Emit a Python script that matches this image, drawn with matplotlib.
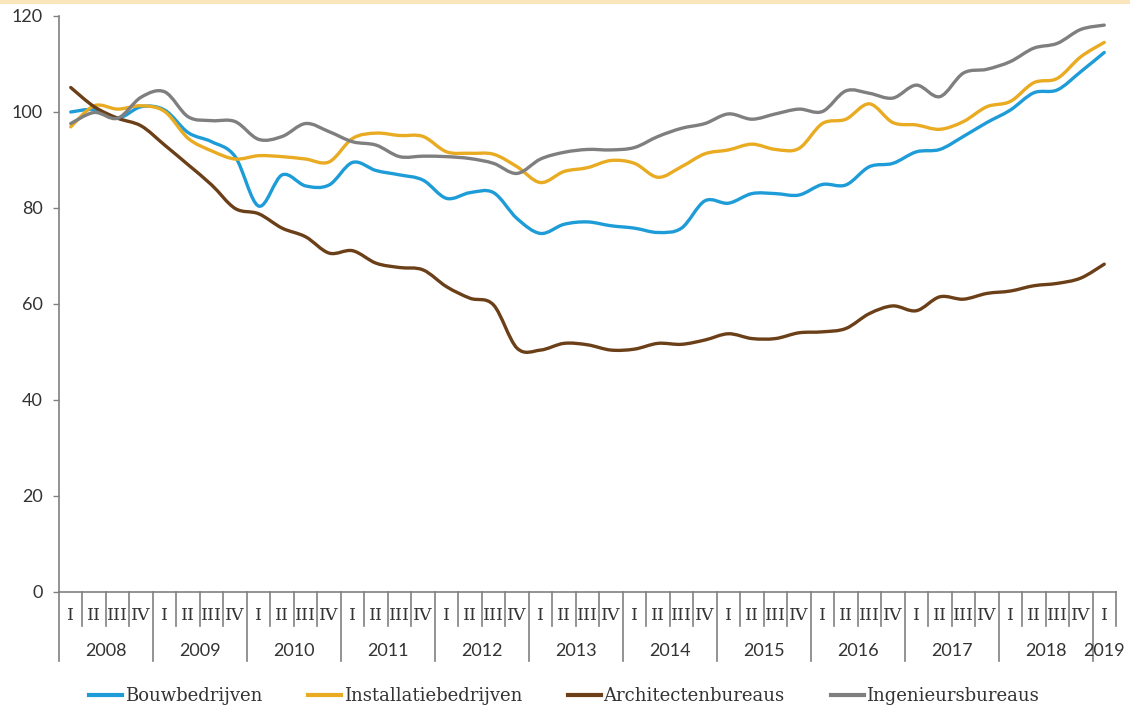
import matplotlib
matplotlib.use("Agg")
import matplotlib.pyplot as plt
from matplotlib.path import Path
from matplotlib.patches import PathPatch, Rectangle
from matplotlib.lines import Line2D
import numpy as np

years = ["2008", "2009", "2010", "2011", "2012", "2013", "2014", "2015",
         "2016", "2017", "2018", "2019"]
quarters = ["I", "II", "III", "IV"]

bouw = [100.0, 100.5, 98.7, 101.1, 100.4, 95.7, 93.8, 90.7, 80.4, 86.9, 84.6, 84.8,
        89.5, 87.8, 86.9, 85.8, 82.0, 83.2, 83.2, 77.8, 74.7, 76.6, 77.1, 76.3,
        75.8, 74.9, 75.8, 81.5, 81.0, 83.0, 83.0, 82.7, 84.9, 84.8, 88.6, 89.3,
        91.7, 92.2, 94.9, 97.8, 100.4, 104.0, 104.6, 108.4, 112.4]
install = [96.9, 101.3, 100.6, 101.3, 100.1, 94.5, 91.9, 90.2, 90.9, 90.7, 90.2, 89.6,
           94.5, 95.6, 95.1, 94.9, 91.7, 91.4, 91.2, 88.6, 85.3, 87.6, 88.4, 89.9,
           89.3, 86.4, 88.6, 91.3, 92.1, 93.3, 92.2, 92.4, 97.6, 98.5, 101.7, 97.8,
           97.3, 96.4, 98.0, 101.1, 102.2, 106.1, 107.0, 111.5, 114.5]
archi = [105.1, 101.1, 98.7, 97.1, 93.1, 89.0, 84.8, 79.9, 78.8, 75.8, 74.0, 70.6,
         71.1, 68.5, 67.6, 67.1, 63.6, 61.2, 59.8, 50.8, 50.4, 51.8, 51.5, 50.4,
         50.6, 51.8, 51.6, 52.5, 53.8, 52.8, 52.8, 54.0, 54.2, 54.9, 58.0, 59.6,
         58.6, 61.5, 61.0, 62.2, 62.7, 63.8, 64.3, 65.4, 68.3]
ingen = [97.6, 99.9, 98.7, 103.1, 104.2, 99.0, 98.2, 98.0, 94.3, 94.9, 97.6, 95.9,
         93.8, 93.1, 90.7, 90.8, 90.7, 90.3, 89.3, 87.2, 90.2, 91.6, 92.2, 92.1,
         92.6, 94.9, 96.6, 97.6, 99.6, 98.5, 99.6, 100.6, 100.1, 104.4, 103.9, 102.9,
         105.6, 103.2, 108.1, 108.9, 110.5, 113.3, 114.3, 117.2, 118.1]

series_names = ["Bouwbedrijven", "Installatiebedrijven", "Architectenbureaus", "Ingenieursbureaus"]
series_vals = [bouw, install, archi, ingen]
colors = ["#1E9CD8", "#E9AB22", "#6B3F17", "#7F7F7F"]

W, H = 1136, 712
fig = plt.figure(figsize=(W / 100, H / 100), dpi=100)
ax = fig.add_axes([59 / W, 1 - 592 / H, (1116 - 59) / W, (592 - 16) / H])

# top decorative band
fig.patches.append(Rectangle((0, 1 - 4 / H), 1130 / W, 4 / H, transform=fig.transFigure,
                             facecolor="#FBE5BC", edgecolor="none"))


def smooth_path(xs, ys):
    pts = np.column_stack([xs, ys]).astype(float)
    n = len(pts)
    verts = [pts[0]]
    codes = [Path.MOVETO]
    for i in range(n - 1):
        p0 = pts[i - 1] if i > 0 else pts[i]
        p1 = pts[i]
        p2 = pts[i + 1]
        p3 = pts[i + 2] if i + 2 < n else pts[i + 1]
        c1 = p1 + (p2 - p0) / 6.0
        c2 = p2 - (p3 - p1) / 6.0
        verts += [c1, c2, p2]
        codes += [Path.CURVE4] * 3
    return Path(verts, codes)


n = len(bouw)
xs = np.arange(n)
for vals, col in zip(series_vals, colors):
    patch = PathPatch(smooth_path(xs, vals), facecolor="none", edgecolor=col,
                      linewidth=2.4, capstyle="round", joinstyle="round", zorder=3)
    ax.add_patch(patch)

ax.set_xlim(-0.5, n - 0.5)
ax.set_ylim(0, 120)
ax.set_yticks(range(0, 121, 20))
ax.tick_params(axis="y", length=4.5, width=1.0, color="#808080", pad=7,
               labelsize=13, labelcolor="#333333")
for lbl in ax.get_yticklabels():
    lbl.set_fontfamily("Lato")
ax.set_xticks([])
for s in ["top", "right"]:
    ax.spines[s].set_visible(False)
for s in ["left", "bottom"]:
    ax.spines[s].set_color("#808080")
    ax.spines[s].set_linewidth(1.2)

# category axis: quarters and years
trans = ax.get_xaxis_transform()
axh = 592 - 16
q_len = 34 / axh
y_len = 69 / axh
labels_q = [quarters[i % 4] for i in range(n)]
for i in range(n):
    ax.text(i, -23 / axh, labels_q[i], transform=trans, ha="center", va="center",
            fontsize=12.5, family="DejaVu Serif", color="#333333", clip_on=False)
for b in range(n + 1):
    x = b - 0.5
    ln = y_len if (b % 4 == 0) else q_len
    if b == n:
        ln = q_len
    ax.add_line(Line2D([x, x], [0, -ln], transform=trans, color="#808080",
                       linewidth=1.2, clip_on=False))
for k, yr in enumerate(years):
    start = k * 4
    end = min(start + 4, n)
    xc = (start + end - 1) / 2
    ax.text(xc, -59 / axh, yr, transform=trans, ha="center", va="center",
            fontsize=13, family="Lato", color="#333333", clip_on=False)

handles = [Line2D([], [], color=c, linewidth=3) for c in colors]
leg = fig.legend(handles, series_names, loc="center left",
                 bbox_to_anchor=(89 / W, 1 - 696 / H), ncol=4, frameon=False,
                 handlelength=1.85, handletextpad=0.12, columnspacing=2.55,
                 borderaxespad=0, borderpad=0,
                 prop={"family": "DejaVu Serif", "size": 13})
for t in leg.get_texts():
    t.set_color("#333333")

fig.savefig("out.png", dpi=100)
